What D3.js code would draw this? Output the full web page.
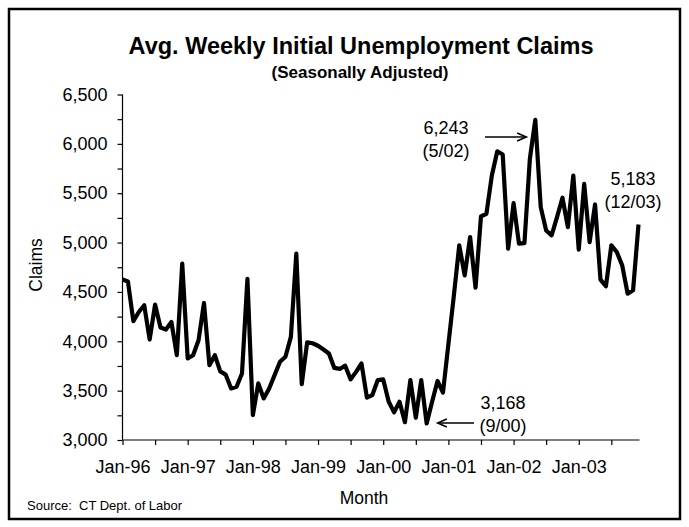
<!DOCTYPE html>
<html>
<head>
<meta charset="utf-8">
<script src="https://cdn.jsdelivr.net/npm/d3@7"></script>
<style>
  html, body { margin: 0; padding: 0; background: #fff; }
  svg { display: block; }
  text { font-family: "Liberation Sans", Arial, sans-serif; fill: #000; }
</style>
</head>
<body>
<div id="chart"></div>
<script>
// Monthly categories, Jan 1996 through Dec 2003
const years = ["96", "97", "98", "99", "00", "01", "02", "03"];
const monthNames = ["Jan", "Feb", "Mar", "Apr", "May", "Jun", "Jul", "Aug", "Sep", "Oct", "Nov", "Dec"];
const months = years.flatMap(y => monthNames.map(m => `${m}-${y}`));

// Average weekly initial claims, seasonally adjusted (one value per month)
const claims = [
  4625, 4605, 4203, 4297, 4365, 4018, 4372, 4139, 4119, 4196, 3859, 4787,
  3826, 3859, 4011, 4388, 3758, 3859, 3695, 3662, 3522, 3539, 3674, 4632,
  3253, 3573, 3421, 3522, 3657, 3792, 3843, 4045, 4888, 3565, 3990, 3980,
  3955, 3917, 3876, 3730, 3720, 3753, 3614, 3690, 3775, 3430, 3455, 3607,
  3614, 3390, 3280, 3387, 3180, 3607, 3225, 3607, 3168, 3387, 3598, 3480,
  3970, 4460, 4972, 4668, 5056, 4543, 5265, 5292, 5679, 5925, 5892, 4938,
  5399, 4989, 4995, 5848, 6243, 5359, 5123, 5073, 5258, 5454, 5157, 5679,
  4928, 5595, 5005, 5386, 4625, 4557, 4972, 4904, 4769, 4483, 4517, 5183
];

// Axis ticks
const xTickMonths = ["Jan-96", "Jul-96", "Jan-97", "Jul-97", "Jan-98", "Jul-98", "Jan-99", "Jul-99",
                     "Jan-00", "Jul-00", "Jan-01", "Jul-01", "Jan-02", "Jul-02", "Jan-03", "Jul-03"];
const xTickLabels = ["Jan-96", "Jan-97", "Jan-98", "Jan-99", "Jan-00", "Jan-01", "Jan-02", "Jan-03"];
const yTicks = [3000, 3250, 3500, 3750, 4000, 4250, 4500, 4750, 5000, 5250, 5500, 5750, 6000, 6250, 6500];
const yTickLabels = [3000, 3500, 4000, 4500, 5000, 5500, 6000, 6500];

// Callouts: month, label lines
const callouts = [
  { month: "May-02", lines: ["6,243", "(5/02)"] },
  { month: "Sep-00", lines: ["3,168", "(9/00)"] },
  { month: "Dec-03", lines: ["5,183", "(12/03)"] }
];

const W = 689, H = 527;
const svg = d3.select("#chart").append("svg").attr("width", W).attr("height", H);

// Outer frame
svg.append("rect")
  .attr("x", 9).attr("y", 9).attr("width", 671).attr("height", 510)
  .attr("fill", "#fff").attr("stroke", "#000").attr("stroke-width", 2.5);

const x = d3.scalePoint().domain(months).range([122.5, 638.5]);
const y = d3.scaleLinear().domain([3000, 6500]).range([440, 94.5]);

// Axes
const fmt = d3.format(",");
const yAxis = d3.axisLeft(y)
  .tickValues(yTicks)
  .tickSize(5)
  .tickPadding(10)
  .tickFormat(d => yTickLabels.includes(d) ? fmt(d) : "");
const gy = svg.append("g").attr("transform", `translate(${x(months[0])},0)`).call(yAxis);

const xAxis = d3.axisBottom(x)
  .tickValues(xTickMonths)
  .tickSize(5)
  .tickPadding(15)
  .tickFormat(d => xTickLabels.includes(d) ? d : "");
const gx = svg.append("g").attr("transform", `translate(0,${y(3000)})`).call(xAxis);

[gx, gy].forEach(g => {
  g.select(".domain").attr("stroke", "#000").attr("stroke-width", 1.2);
  g.selectAll(".tick line").attr("stroke", "#000").attr("stroke-width", 1.2);
  g.selectAll(".tick text").style("font-size", "18px").attr("fill", "#000");
});
gx.select(".domain").attr("d", `M${x(months[0])},0H${x(months[months.length - 1]) + 1}`);
gy.select(".domain").attr("d", `M0,${y(6500)}V${y(3000)}`);

// Series line
const line = d3.line()
  .x((d, i) => x(months[i]))
  .y(d => y(d));
svg.append("path")
  .datum(claims)
  .attr("d", line)
  .attr("fill", "none")
  .attr("stroke", "#000")
  .attr("stroke-width", 4.2)
  .attr("stroke-linejoin", "round");

// Titles
svg.append("text").attr("x", 361).attr("y", 54).attr("text-anchor", "middle")
  .style("font-size", "23.5px").style("font-weight", "bold")
  .text("Avg. Weekly Initial Unemployment Claims");
svg.append("text").attr("x", 360).attr("y", 78).attr("text-anchor", "middle")
  .style("font-size", "17px").style("font-weight", "bold")
  .text("(Seasonally Adjusted)");
svg.append("text").attr("x", 364).attr("y", 504).attr("text-anchor", "middle")
  .style("font-size", "17.5px").text("Month");
svg.append("text").attr("transform", "translate(42,265) rotate(-90)").attr("text-anchor", "middle")
  .style("font-size", "17.5px").text("Claims");
svg.append("text").attr("x", 27).attr("y", 510)
  .style("font-size", "13px").attr("xml:space", "preserve").text("Source:  CT Dept. of Labor");

// Callout labels and arrows
const labelPos = {
  "May-02": { x: 446, y: 134 },
  "Sep-00": { x: 503, y: 409 },
  "Dec-03": { x: 633, y: 185 }
};
callouts.forEach(c => {
  const p = labelPos[c.month];
  const t = svg.append("text").attr("text-anchor", "middle").style("font-size", "18px");
  c.lines.forEach((ln, k) => {
    t.append("tspan").attr("x", p.x).attr("y", p.y + k * 22.5).text(ln);
  });
});

function arrow(x1, y1, x2, y2) {
  const a = Math.atan2(y2 - y1, x2 - x1), L = 10, s = 0.42;
  const g = svg.append("g").attr("stroke", "#000").attr("stroke-width", 1.6).attr("fill", "none");
  g.append("line").attr("x1", x1).attr("y1", y1).attr("x2", x2).attr("y2", y2);
  g.append("path").attr("d",
    `M${x2 - L * Math.cos(a - s)},${y2 - L * Math.sin(a - s)}L${x2},${y2}L${x2 - L * Math.cos(a + s)},${y2 - L * Math.sin(a + s)}`);
}
// Peak arrow points right toward May-02, trough arrow points left toward Sep-00
arrow(485, 137, x(months[76]) - 9, 137);
arrow(474, 423, x(months[56]) + 11, 423);
</script>
</body>
</html>
